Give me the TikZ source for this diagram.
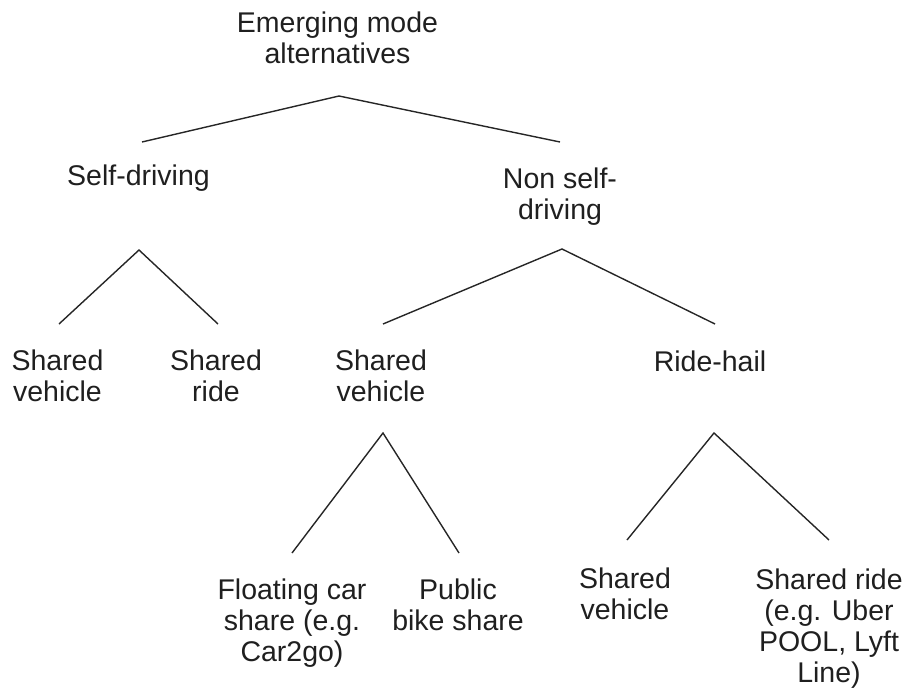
\documentclass[tikz,border=0pt]{standalone}
\usepackage{fontspec}
\setmainfont{Liberation Sans}
\begin{document}
\begin{tikzpicture}[x=1pt,y=-1pt,
  lbl/.style={align=center,inner sep=0pt,anchor=base,text=black!88,
    font=\fontsize{28.5}{31}\selectfont},
  branch/.style={draw=black!85,line width=1.4pt}]
\useasboundingbox (0,0) rectangle (908,688);
% labels (anchor = baseline of last line)
\node[lbl] (root) at (337.5,63) {Emerging mode\\alternatives};
\node[lbl] (sd) at (138.5,185) {Self-driving};
\node[lbl] (nsd) at (560,219) {Non self-\\driving};
\node[lbl] (sdsv) at (57.5,401) {Shared\\vehicle};
\node[lbl] (sdsr) at (216,401) {Shared\\ride};
\node[lbl] (nsv) at (381,401) {Shared\\vehicle};
\node[lbl] (rh) at (710,371) {Ride-hail};
\node[lbl] (fcs) at (292,661) {Floating car\\share (e.g.\\Car2go)};
\node[lbl] (pbs) at (458,630) {Public\\bike share};
\node[lbl] (rhsv) at (625,619) {Shared\\vehicle};
\node[lbl] (rhsr) at (829,682) {Shared ride\\(e.g. Uber\\POOL, Lyft\\Line)};
% connector points
\coordinate (rootA) at (339,96);
\coordinate (sdT) at (142,142);
\coordinate (nsdT) at (560,142);
\coordinate (sdA) at (139,250);
\coordinate (sdsvT) at (59,324);
\coordinate (sdsrT) at (218,324);
\coordinate (nsdA) at (562,249);
\coordinate (nsvT) at (383,324);
\coordinate (rhT) at (715,324);
\coordinate (nsvA) at (383,433);
\coordinate (fcsT) at (292,553);
\coordinate (pbsT) at (459,553);
\coordinate (rhA) at (714,433);
\coordinate (rhsvT) at (627,540);
\coordinate (rhsrT) at (829,540);
% connectors
\draw[branch] (sdT) -- (rootA) -- (nsdT);
\draw[branch] (sdsvT) -- (sdA) -- (sdsrT);
\draw[branch] (nsvT) -- (nsdA) -- (rhT);
\draw[branch] (fcsT) -- (nsvA) -- (pbsT);
\draw[branch] (rhsvT) -- (rhA) -- (rhsrT);
\end{tikzpicture}
\end{document}
